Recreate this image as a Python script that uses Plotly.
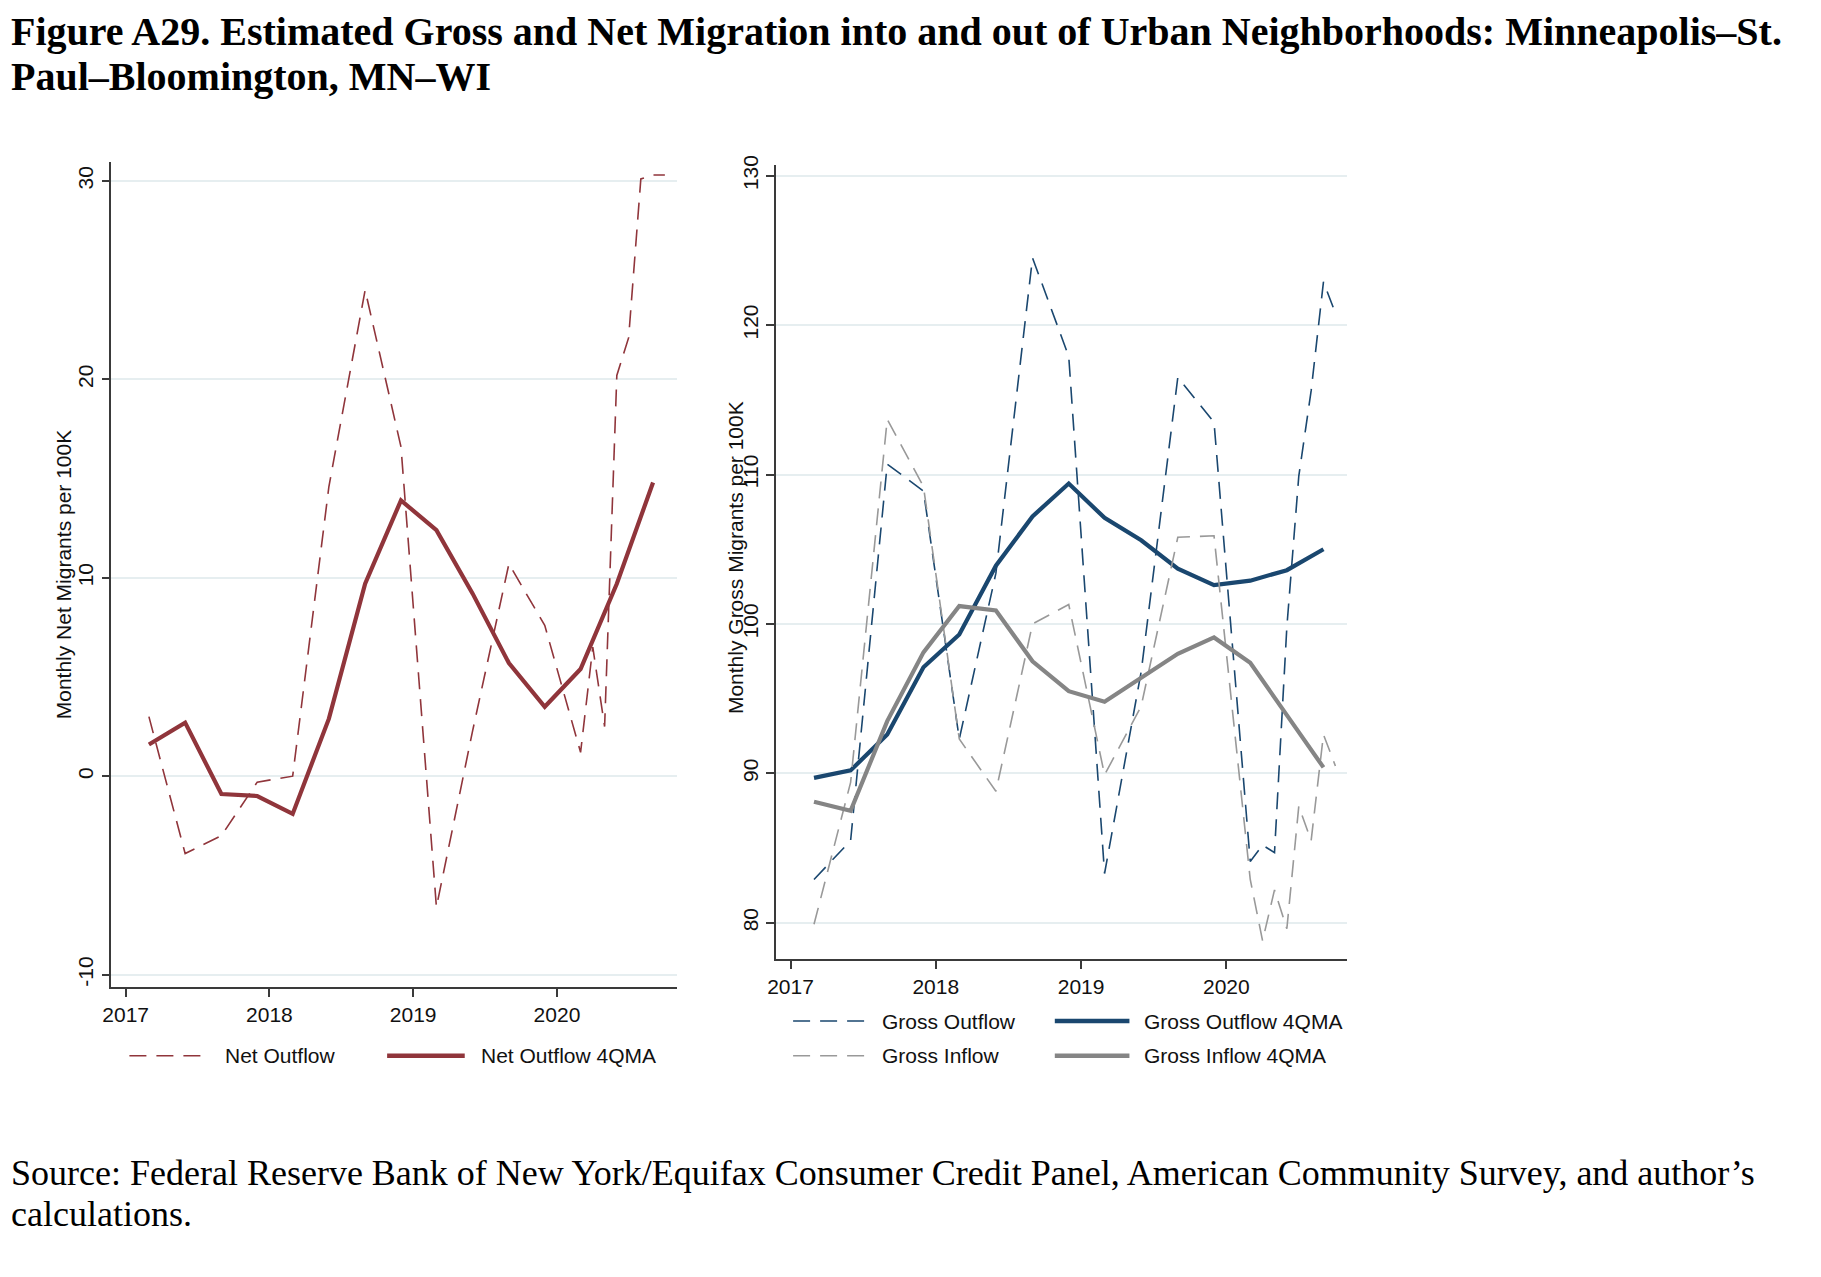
import plotly.graph_objects as go

# ---------------- data ----------------
periods = ["2017-03-01", "2017-06-01", "2017-09-01", "2017-12-01",
           "2018-03-01", "2018-06-01", "2018-09-01", "2018-12-01",
           "2019-03-01", "2019-06-01", "2019-09-01", "2019-12-01",
           "2020-03-01", "2020-04-01", "2020-05-01", "2020-06-01",
           "2020-07-01", "2020-08-01", "2020-09-01", "2020-10-01"]
net_outflow = [3.0, -3.9, -3.0, -0.3, 0.0, 14.6, 24.5, 16.6, -6.6, 2.3,
               10.7, 7.6, 1.2, 6.5, 2.5, 20.2, 22.1, 30.1, 30.3, 30.3]
gross_outflow = [82.9, 85.5, 110.7, 108.9, 92.3, 103.4, 124.5, 117.9, 83.3, 96.8,
                 116.5, 113.5, 84.1, 85.2, 84.7, 99.8, 109.9, 115.6, 122.9, 120.8]
gross_inflow = [79.9, 89.4, 113.7, 109.2, 92.3, 88.8, 100.0, 101.3, 89.9, 94.5,
                105.8, 105.9, 82.9, 78.8, 82.2, 79.6, 87.8, 85.5, 92.6, 90.5]

periods_ma = ["2017-03-01", "2017-06-01", "2017-09-01", "2017-12-01",
              "2018-03-01", "2018-06-01", "2018-09-01", "2018-12-01",
              "2019-03-01", "2019-06-01", "2019-09-01", "2019-12-01",
              "2020-03-01", "2020-06-01", "2020-09-01"]
net_outflow_ma = [1.6, 2.7, -0.9, -1.0, -1.9, 2.9, 9.7, 13.9, 12.4, 9.2,
                  5.7, 3.5, 5.4, 9.7, 14.8]
gross_outflow_ma = [89.7, 90.2, 92.6, 97.1, 99.3, 103.9, 107.2, 109.4, 107.1, 105.6,
                    103.7, 102.6, 102.9, 103.6, 105.0]
gross_inflow_ma = [88.1, 87.5, 93.5, 98.1, 101.2, 100.9, 97.5, 95.5, 94.8, 96.4,
                   98.0, 99.1, 97.4, 93.9, 90.4]

year_ticks = ["2017-01-01", "2018-01-01", "2019-01-01", "2020-01-01"]
year_labels = ["2017", "2018", "2019", "2020"]
net_ticks = [-10, 0, 10, 20, 30]
gross_ticks = [80, 90, 100, 110, 120, 130]

title_lines = ["Figure A29. Estimated Gross and Net Migration into and out of Urban Neighborhoods: Minneapolis\u2013St.",
               "Paul\u2013Bloomington, MN\u2013WI"]
source_lines = ["Source: Federal Reserve Bank of New York/Equifax Consumer Credit Panel, American Community Survey, and author\u2019s",
                "calculations."]

# ---------------- style ----------------
W, H = 1821, 1277
MAROON = "#90353B"
NAVY = "#1A476F"
GRAY_SOLID = "#858585"
GRAY_DASH = "#999999"
AXIS_C = "#3a3a3a"
GRID_C = "#E6EEF0"
DASH = "17px,10px"
SANS = "Liberation Sans, Arial, sans-serif"
SERIF = "Liberation Serif, Times New Roman, serif"
FS = 21


def px(x):
    return x / W


def py(y):
    return 1 - y / H


fig = go.Figure()

# left panel
fig.add_trace(go.Scatter(x=periods, y=net_outflow, mode="lines", name="Net Outflow",
                         line=dict(color=MAROON, width=1.6, dash=DASH),
                         xaxis="x", yaxis="y", showlegend=False))
fig.add_trace(go.Scatter(x=periods_ma, y=net_outflow_ma, mode="lines", name="Net Outflow 4QMA",
                         line=dict(color=MAROON, width=4.2),
                         xaxis="x", yaxis="y", showlegend=False))
# right panel
fig.add_trace(go.Scatter(x=periods, y=gross_outflow, mode="lines", name="Gross Outflow",
                         line=dict(color=NAVY, width=1.6, dash=DASH),
                         xaxis="x2", yaxis="y2", showlegend=False))
fig.add_trace(go.Scatter(x=periods_ma, y=gross_outflow_ma, mode="lines", name="Gross Outflow 4QMA",
                         line=dict(color=NAVY, width=4.2),
                         xaxis="x2", yaxis="y2", showlegend=False))
fig.add_trace(go.Scatter(x=periods, y=gross_inflow, mode="lines", name="Gross Inflow",
                         line=dict(color=GRAY_DASH, width=1.6, dash=DASH),
                         xaxis="x2", yaxis="y2", showlegend=False))
fig.add_trace(go.Scatter(x=periods_ma, y=gross_inflow_ma, mode="lines", name="Gross Inflow 4QMA",
                         line=dict(color=GRAY_SOLID, width=4.2),
                         xaxis="x2", yaxis="y2", showlegend=False))

xcommon = dict(type="date", range=["2016-11-26", "2020-10-31"],
               tickmode="array", tickvals=year_ticks, ticktext=year_labels,
               ticks="outside", ticklen=8, tickwidth=1.5, tickcolor=AXIS_C,
               showline=True, linecolor=AXIS_C, linewidth=1.5,
               showgrid=False, zeroline=False,
               tickfont=dict(family=SANS, size=FS, color="#111111"))
ycommon = dict(tickmode="array", tickangle=-90,
               ticks="outside", ticklen=8, tickwidth=1.5, tickcolor=AXIS_C,
               showline=True, linecolor=AXIS_C, linewidth=1.5,
               showgrid=True, gridcolor=GRID_C, gridwidth=1.5, zeroline=False,
               tickfont=dict(family=SANS, size=FS, color="#111111"))

fig.update_layout(
    width=W, height=H, autosize=False,
    margin=dict(l=0, r=0, t=0, b=0),
    paper_bgcolor="white", plot_bgcolor="white",
    xaxis=dict(domain=[px(103), px(671)], anchor="y", **xcommon),
    yaxis=dict(domain=[py(984.6), py(152.9)], anchor="x", range=[-10.62, 30.97],
               tickvals=net_ticks, ticktext=[str(v) for v in net_ticks], **ycommon),
    xaxis2=dict(domain=[px(771), px(1345)], anchor="y2", **xcommon),
    yaxis2=dict(domain=[py(956.3), py(155.9)], anchor="x2", range=[77.59, 130.74],
                tickvals=gross_ticks, ticktext=[str(v) for v in gross_ticks], **ycommon),
    showlegend=False,
)

annotations = []
# figure title (two lines, placed separately to keep the tight line spacing)
annotations.append(dict(text="<b>%s</b>" % title_lines[0], x=px(0), y=py(22), xref="paper", yref="paper",
                        xanchor="left", yanchor="middle", showarrow=False,
                        font=dict(family=SERIF, size=40, color="black")))
annotations.append(dict(text="<b>%s</b>" % title_lines[1], x=px(0), y=py(67), xref="paper", yref="paper",
                        xanchor="left", yanchor="middle", showarrow=False,
                        font=dict(family=SERIF, size=40, color="black")))
# source
annotations.append(dict(text=source_lines[0], x=px(0), y=py(1172), xref="paper", yref="paper",
                        xanchor="left", yanchor="middle", showarrow=False,
                        font=dict(family=SERIF, size=36, color="black")))
annotations.append(dict(text=source_lines[1], x=px(0), y=py(1213), xref="paper", yref="paper",
                        xanchor="left", yanchor="middle", showarrow=False,
                        font=dict(family=SERIF, size=36, color="black")))
# y-axis titles
annotations.append(dict(text="Monthly Net Migrants per 100K", x=px(55), y=py(569), xref="paper", yref="paper",
                        xanchor="center", yanchor="middle", textangle=-90, showarrow=False,
                        font=dict(family=SANS, size=FS, color="#111111")))
annotations.append(dict(text="Monthly Gross Migrants per 100K", x=px(730), y=py(552), xref="paper", yref="paper",
                        xanchor="center", yanchor="middle", textangle=-90, showarrow=False,
                        font=dict(family=SANS, size=FS, color="#111111")))

# legends (key samples + labels)
legend_items = [
    # (x0, x1, y, color, dashed, text_x, label)
    (121, 199, 1054, MAROON, True, 215, "Net Outflow"),
    (380, 458, 1054, MAROON, False, 472, "Net Outflow 4QMA"),
    (788, 861, 1019, NAVY, True, 875, "Gross Outflow"),
    (1051, 1126, 1019, NAVY, False, 1139, "Gross Outflow 4QMA"),
    (788, 861, 1054, GRAY_DASH, True, 875, "Gross Inflow"),
    (1051, 1126, 1054, GRAY_SOLID, False, 1139, "Gross Inflow 4QMA"),
]
shapes = []
for x0, x1, yy, col, dashed, tx, lab in legend_items:
    shapes.append(dict(type="line", xref="paper", yref="paper",
                       x0=px(x0), x1=px(x1), y0=py(yy), y1=py(yy),
                       line=dict(color=col, width=1.6 if dashed else 4.6,
                                 dash=DASH if dashed else "solid")))
    annotations.append(dict(text=lab, x=px(tx), y=py(yy), xref="paper", yref="paper",
                            xanchor="left", yanchor="middle", showarrow=False,
                            font=dict(family=SANS, size=FS, color="#111111")))

fig.update_layout(annotations=annotations, shapes=shapes)

fig.write_html("out.html", config={"displayModeBar": False},
               post_script="document.body.style.margin='0';")
